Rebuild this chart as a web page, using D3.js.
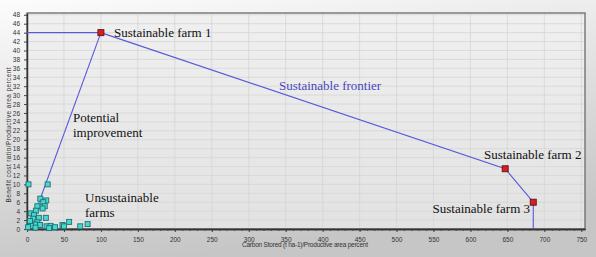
<!DOCTYPE html>
<html>
<head>
<meta charset="utf-8">
<script src="https://cdn.jsdelivr.net/npm/d3@7"></script>
<style>
  body { margin: 0; background: #fff; }
  svg { display: block; }
</style>
</head>
<body>
<div id="chart"></div>
<script>
var WIDTH = 596;
var HEIGHT = 257;

// unsustainable farms [carbon, benefit]
var farmsX = [2, 28, 18, 26, 22, 24, 21, 14, 12, 5, 9.5, 8.5, 16, 25.5, 4, 14, 11, 5.5, 17.5, 26.5, 32, 38, 48, 50, 57, 72, 82, 1.5, 11.5, 30];
var farmsY = [10, 10, 6.8, 6.4, 6, 5.1, 4.6, 5.1, 4.1, 3.5, 3.1, 2.3, 2.5, 2.5, 1.8, 1.5, 1.0, 0.7, 0.9, 0.6, 0.7, 0.4, 0.9, 0.6, 1.6, 0.6, 1.1, 0.4, 0.3, 0.2];

// sustainable frontier
var frontierX = [0, 100, 647, 685, 685];
var frontierY = [44, 44, 13.5, 6, 0];
var sustainX = [100, 647, 685];
var sustainY = [44, 13.5, 6];

// potential improvement line
var improveX = [3, 100];
var improveY = [0, 44];

var xTicks = d3.range(0, 751, 50);
var yTicks = d3.range(0, 49, 2);

var margin = { left: 27, right: 11, top: 13, bottom: 28 };

var svg = d3.select("#chart").append("svg")
	.attr("width", WIDTH)
	.attr("height", HEIGHT)
	.style("font-family", "'Liberation Sans', Arial, sans-serif");

var defs = svg.append("defs");
var bg = defs.append("linearGradient").attr("id", "bg")
	.attr("x1", "0%").attr("y1", "0%").attr("x2", "30%").attr("y2", "100%");
bg.append("stop").attr("offset", "0%").attr("stop-color", "#fcfcfc");
bg.append("stop").attr("offset", "100%").attr("stop-color", "#c6c6c6");

var plotBg = defs.append("linearGradient").attr("id", "plotbg")
	.attr("x1", "0%").attr("y1", "0%").attr("x2", "0%").attr("y2", "100%");
plotBg.append("stop").attr("offset", "0%").attr("stop-color", "#f0f0f0");
plotBg.append("stop").attr("offset", "100%").attr("stop-color", "#e2e2e2");

svg.append("rect").attr("width", WIDTH).attr("height", HEIGHT).attr("fill", "url(#bg)");

var x = d3.scaleLinear().domain([0, 755]).range([margin.left, WIDTH - margin.right]);
var y = d3.scaleLinear().domain([0, 48.4]).range([HEIGHT - margin.bottom, margin.top]);

var plotW = WIDTH - margin.left - margin.right;
var plotH = HEIGHT - margin.top - margin.bottom;

svg.append("rect")
	.attr("x", margin.left).attr("y", margin.top)
	.attr("width", plotW).attr("height", plotH)
	.attr("fill", "url(#plotbg)");

// grid
svg.append("g").selectAll("line")
	.data(yTicks.slice(1))
	.join("line")
	.attr("x1", margin.left).attr("x2", margin.left + plotW)
	.attr("y1", d => y(d)).attr("y2", d => y(d))
	.attr("stroke", "#d6d6d6").attr("stroke-width", 0.8);

svg.append("g").selectAll("line")
	.data(xTicks.slice(1))
	.join("line")
	.attr("x1", d => x(d)).attr("x2", d => x(d))
	.attr("y1", margin.top).attr("y2", margin.top + plotH)
	.attr("stroke", "#d6d6d6").attr("stroke-width", 0.8);

// frame
svg.append("rect")
	.attr("x", margin.left).attr("y", margin.top)
	.attr("width", plotW).attr("height", plotH)
	.attr("fill", "none").attr("stroke", "#6a6a6a").attr("stroke-width", 1.3);

// axes
var xAxis = svg.append("g")
	.attr("transform", `translate(0,${margin.top + plotH})`)
	.call(d3.axisBottom(x).tickValues(xTicks).tickSize(3).tickSizeOuter(0));
var xMinor = svg.append("g")
	.attr("transform", `translate(0,${margin.top + plotH})`)
	.call(d3.axisBottom(x).tickValues(d3.range(0, 751, 10)).tickSize(2).tickFormat("").tickSizeOuter(0));

var yAxis = svg.append("g")
	.attr("transform", `translate(${margin.left},0)`)
	.call(d3.axisLeft(y).tickValues(yTicks).tickSize(3).tickSizeOuter(0));

[xAxis, xMinor, yAxis].forEach(function (g) {
	g.select(".domain").attr("stroke", "#333").attr("stroke-width", 1.5);
	g.selectAll(".tick line").attr("stroke", "#444");
	g.selectAll("text").attr("fill", "#333").style("font-size", "6.5px");
});
xAxis.selectAll("text").attr("dy", "1em");
yAxis.selectAll("text").attr("dx", "-1px");

// axis titles
svg.append("text")
	.attr("x", 305).attr("y", 247)
	.attr("text-anchor", "middle")
	.attr("textLength", 126)
	.attr("fill", "#333")
	.style("font-size", "6.5px")
	.text("Carbon Stored (t ha-1)/Productive area percent");

svg.append("text")
	.attr("transform", "rotate(-90)")
	.attr("x", -135).attr("y", 11)
	.attr("text-anchor", "middle")
	.attr("textLength", 135)
	.attr("fill", "#333")
	.style("font-size", "6.5px")
	.text("Benefit cost ratio/Productive area percent");

// lines
var line = d3.line().x(d => x(d[0])).y(d => y(d[1]));

svg.append("path")
	.datum(frontierX.map((v, i) => [v, frontierY[i]]))
	.attr("d", line)
	.attr("fill", "none")
	.attr("stroke", "#5858d8")
	.attr("stroke-width", 1.1);

svg.append("path")
	.datum(improveX.map((v, i) => [v, improveY[i]]))
	.attr("d", line)
	.attr("fill", "none")
	.attr("stroke", "#5858d8")
	.attr("stroke-width", 1.1);

// unsustainable farms
svg.append("g").selectAll("rect")
	.data(farmsX.map((v, i) => [v, farmsY[i]]))
	.join("rect")
	.attr("x", d => x(d[0]) - 2.5).attr("y", d => y(d[1]) - 2.5)
	.attr("width", 5).attr("height", 5)
	.attr("fill", "#48d8d0")
	.attr("stroke", "#1f6f70")
	.attr("stroke-width", 0.9);

// sustainable farms
svg.append("g").selectAll("rect")
	.data(sustainX.map((v, i) => [v, sustainY[i]]))
	.join("rect")
	.attr("x", d => x(d[0]) - 3).attr("y", d => y(d[1]) - 3)
	.attr("width", 6).attr("height", 6)
	.attr("fill", "#d42020")
	.attr("stroke", "#6a1010")
	.attr("stroke-width", 0.9);

// annotations
var serif = "'Liberation Serif', 'Times New Roman', serif";
function note(tx, ty, lines, color, anchor) {
	var t = svg.append("text")
		.attr("x", tx).attr("y", ty)
		.attr("fill", color)
		.attr("text-anchor", anchor || "start")
		.style("font-family", serif)
		.style("font-size", "13px");
	lines.forEach(function (s, i) {
		t.append("tspan").attr("x", tx).attr("dy", i ? 15 : 0).text(s);
	});
}

note(114, 37, ["Sustainable farm 1"], "#111");
note(279, 90, ["Sustainable frontier"], "#4848c0");
note(73, 122, ["Potential", "improvement"], "#111");
note(85, 202, ["Unsustainable", "farms"], "#111");
note(484, 159, ["Sustainable farm 2"], "#111");
note(530, 213, ["Sustainable farm 3"], "#111", "end");
</script>
</body>
</html>
